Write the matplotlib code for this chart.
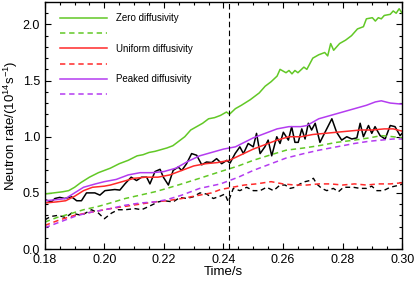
import matplotlib
matplotlib.use('Agg')
import matplotlib.pyplot as plt
from matplotlib.ticker import MultipleLocator

plt.rcParams['font.family'] = ['Liberation Sans', 'DejaVu Sans']
plt.rcParams['mathtext.fontset'] = 'custom'
plt.rcParams['mathtext.rm'] = 'Liberation Sans'
plt.rcParams['mathtext.it'] = 'Liberation Sans:italic'

# Zero diffusivity, solid
t_zero = [0.180, 0.183, 0.186, 0.188, 0.190, 0.192, 0.195, 0.198, 0.200, 0.202, 0.205, 0.208,
          0.211, 0.213, 0.215, 0.217, 0.219, 0.221, 0.223, 0.225, 0.227, 0.229, 0.231, 0.233,
          0.235, 0.237, 0.239, 0.241, 0.242, 0.244, 0.246, 0.249, 0.252, 0.254, 0.256, 0.258,
          0.259, 0.261, 0.262, 0.263, 0.264, 0.265, 0.267, 0.268, 0.270, 0.272, 0.274, 0.275,
          0.276, 0.277, 0.279, 0.281, 0.283, 0.285, 0.287, 0.288, 0.290, 0.291, 0.292, 0.293,
          0.294, 0.296, 0.297, 0.298, 0.299, 0.300]
v_zero = [0.49, 0.50, 0.51, 0.52, 0.55, 0.59, 0.64, 0.68, 0.70, 0.72, 0.76, 0.79,
          0.83, 0.84, 0.86, 0.87, 0.885, 0.90, 0.92, 0.96, 1.00, 1.06, 1.09, 1.12,
          1.16, 1.17, 1.19, 1.22, 1.20, 1.25, 1.28, 1.33, 1.39, 1.45, 1.49, 1.54,
          1.60, 1.57, 1.59, 1.56, 1.59, 1.57, 1.62, 1.60, 1.70, 1.73, 1.75, 1.72,
          1.83, 1.77, 1.83, 1.86, 1.90, 1.96, 1.98, 2.05, 2.06, 2.03, 2.06, 2.05,
          2.08, 2.09, 2.12, 2.10, 2.14, 2.10]

# Zero diffusivity, dashed
t_zero_d = [0.180, 0.184, 0.188, 0.193, 0.198, 0.202, 0.207, 0.212, 0.217, 0.221, 0.226, 0.232,
            0.239, 0.245, 0.250, 0.256, 0.261, 0.267, 0.272, 0.278, 0.284, 0.289, 0.293, 0.297, 0.300]
v_zero_d = [0.24, 0.28, 0.31, 0.35, 0.38, 0.41, 0.45, 0.48, 0.51, 0.54, 0.58, 0.63,
            0.69, 0.74, 0.79, 0.84, 0.88, 0.90, 0.92, 0.95, 0.97, 0.99, 1.01, 1.00, 0.99]

# Uniform diffusivity
t_uni = [0.180, 0.184, 0.187, 0.190, 0.193, 0.196, 0.200, 0.202, 0.206, 0.210, 0.214, 0.218,
         0.222, 0.226, 0.230, 0.234, 0.238, 0.242, 0.246, 0.250, 0.254, 0.258, 0.262, 0.266,
         0.270, 0.274, 0.278, 0.282, 0.286, 0.290, 0.294, 0.297, 0.300]
v_uni = [0.41, 0.42, 0.43, 0.47, 0.52, 0.55, 0.56, 0.57, 0.60, 0.63, 0.64, 0.64,
         0.66, 0.70, 0.74, 0.76, 0.77, 0.79, 0.84, 0.89, 0.93, 0.97, 1.00, 1.00,
         1.02, 1.03, 1.04, 1.05, 1.06, 1.06, 1.07, 1.07, 1.05]

t_uni_d = [0.180, 0.185, 0.190, 0.194, 0.198, 0.202, 0.207, 0.212, 0.217, 0.221, 0.226, 0.232,
           0.236, 0.239, 0.243, 0.247, 0.251, 0.256, 0.260, 0.264, 0.268, 0.272, 0.276, 0.280,
           0.284, 0.288, 0.292, 0.296, 0.300]
v_uni_d = [0.21, 0.26, 0.30, 0.32, 0.34, 0.36, 0.38, 0.40, 0.42, 0.43, 0.45, 0.48,
           0.50, 0.53, 0.55, 0.57, 0.58, 0.60, 0.58, 0.57, 0.57, 0.58, 0.58, 0.57,
           0.58, 0.57, 0.58, 0.58, 0.59]

# Peaked diffusivity
t_peak = [0.180, 0.184, 0.187, 0.190, 0.193, 0.197, 0.200, 0.204, 0.208, 0.212, 0.216, 0.220,
          0.224, 0.228, 0.232, 0.236, 0.240, 0.244, 0.247, 0.250, 0.254, 0.258, 0.262, 0.266,
          0.268, 0.272, 0.276, 0.280, 0.284, 0.288, 0.291, 0.293, 0.296, 0.300]
v_peak = [0.43, 0.44, 0.45, 0.50, 0.55, 0.58, 0.60, 0.62, 0.66, 0.68, 0.68, 0.69,
          0.72, 0.78, 0.83, 0.86, 0.89, 0.91, 0.95, 0.99, 1.03, 1.07, 1.09, 1.09,
          1.10, 1.16, 1.19, 1.22, 1.25, 1.28, 1.31, 1.32, 1.30, 1.29]

t_peak_d = [0.180, 0.185, 0.190, 0.194, 0.198, 0.202, 0.207, 0.212, 0.217, 0.221, 0.226, 0.232,
            0.239, 0.245, 0.250, 0.256, 0.261, 0.267, 0.272, 0.278, 0.284, 0.289, 0.293, 0.297, 0.300]
v_peak_d = [0.19, 0.24, 0.29, 0.32, 0.34, 0.36, 0.39, 0.41, 0.42, 0.44, 0.48, 0.54,
            0.58, 0.64, 0.70, 0.76, 0.81, 0.85, 0.88, 0.91, 0.94, 0.96, 0.97, 0.98, 0.98]

# Measured (black)
t_meas = [0.1800, 0.1822, 0.1834, 0.1850, 0.1867, 0.1890, 0.1907, 0.1923, 0.1940, 0.1968,
          0.1985, 0.2002, 0.2035, 0.2052, 0.2069, 0.2090, 0.2108, 0.2125, 0.2142, 0.2153,
          0.2170, 0.2187, 0.2198, 0.2215, 0.2231, 0.2248, 0.2260, 0.2276, 0.2293, 0.2310,
          0.2327, 0.2343, 0.2360, 0.2377, 0.2394, 0.2411, 0.2422, 0.2439, 0.2455, 0.2467,
          0.2483, 0.2500, 0.2511, 0.2523, 0.2539, 0.2550, 0.2562, 0.2579, 0.2590, 0.2601,
          0.2618, 0.2629, 0.2640, 0.2651, 0.2663, 0.2674, 0.2685, 0.2696, 0.2708, 0.2724,
          0.2741, 0.2764, 0.2780, 0.2797, 0.2814, 0.2831, 0.2848, 0.2859, 0.2870, 0.2887,
          0.2898, 0.2909, 0.2926, 0.2943, 0.2960, 0.2976, 0.2993, 0.3000]
v_meas = [0.44, 0.42, 0.45, 0.46, 0.45, 0.465, 0.43, 0.43, 0.50, 0.50,
          0.48, 0.52, 0.53, 0.525, 0.58, 0.64, 0.61, 0.64, 0.64, 0.58,
          0.69, 0.71, 0.64, 0.57, 0.70, 0.73, 0.70, 0.76, 0.85, 0.835,
          0.75, 0.775, 0.77, 0.805, 0.76, 0.79, 0.765, 0.85, 0.91, 0.85,
          0.94, 0.91, 1.03, 0.85, 0.91, 0.97, 0.83, 1.00, 0.94, 1.04,
          0.97, 1.09, 0.95, 0.95, 1.07, 0.98, 1.12, 1.06, 1.12, 0.95,
          1.04, 1.16, 1.04, 0.97, 1.00, 0.98, 0.99, 1.12, 1.00, 1.10,
          1.03, 1.09, 1.01, 0.98, 1.10, 1.09, 1.01, 1.03]

t_meas_d = [0.1800, 0.1820, 0.1845, 0.1870, 0.1890, 0.1923, 0.1957, 0.1980, 0.2000, 0.2024,
            0.2046, 0.2070, 0.2103, 0.2125, 0.2150, 0.2181, 0.2200, 0.2231, 0.2254, 0.2276,
            0.2298, 0.2321, 0.2343, 0.2366, 0.2388, 0.2405, 0.2416, 0.2433, 0.2455, 0.2478,
            0.2500, 0.2523, 0.2545, 0.2568, 0.2590, 0.2607, 0.2624, 0.2640, 0.2657, 0.2674,
            0.2690, 0.2702, 0.2713, 0.2730, 0.2747, 0.2769, 0.2786, 0.2803, 0.2820, 0.2836,
            0.2859, 0.2881, 0.2898, 0.2915, 0.2937, 0.2960, 0.2976, 0.2993, 0.3000]
v_meas_d = [0.26, 0.29, 0.30, 0.28, 0.32, 0.30, 0.35, 0.32, 0.27, 0.32,
            0.35, 0.35, 0.36, 0.35, 0.38, 0.42, 0.43, 0.42, 0.46, 0.45,
            0.465, 0.50, 0.49, 0.45, 0.47, 0.49, 0.42, 0.54, 0.52, 0.55,
            0.52, 0.52, 0.55, 0.52, 0.57, 0.57, 0.54, 0.55, 0.58, 0.60,
            0.61, 0.63, 0.58, 0.54, 0.52, 0.54, 0.51, 0.55, 0.55, 0.55,
            0.54, 0.54, 0.56, 0.52, 0.52, 0.55, 0.56, 0.57, 0.58]

t_mark = 0.242

green = '#62c826'
red = '#ff2a2a'
purple = '#b43cf0'
dash = (3.5, 2.5)

fig = plt.figure(figsize=(4.15, 2.83), dpi=100)
ax = fig.add_axes([0.108, 0.12, 0.861, 0.873])

ax.plot(t_meas_d, v_meas_d, color='black', lw=1.0, dashes=dash)
ax.plot(t_meas, v_meas, color='black', lw=1.1)
l1, = ax.plot(t_zero, v_zero, color=green, lw=1.1)
l2, = ax.plot(t_zero_d, v_zero_d, color=green, lw=1.1, dashes=dash)
l3, = ax.plot(t_uni, v_uni, color=red, lw=1.1)
l4, = ax.plot(t_uni_d, v_uni_d, color=red, lw=1.1, dashes=dash)
l5, = ax.plot(t_peak, v_peak, color=purple, lw=1.1)
l6, = ax.plot(t_peak_d, v_peak_d, color=purple, lw=1.1, dashes=dash)
ax.axvline(t_mark, color='black', lw=0.8, dashes=(5, 3))

ax.legend([l1, l2, l3, l4, l5, l6],
          ['Zero diffusivity', '', 'Uniform diffusivity', '', 'Peaked diffusivity', ''],
          loc='upper left', bbox_to_anchor=(0.042, 0.955), frameon=False,
          fontsize=7, handlelength=4.9, handletextpad=0.9, labelspacing=0.55,
          borderaxespad=0, borderpad=0)

ax.set_xlim(0.18, 0.30)
ax.set_ylim(0.0, 2.2)
ax.xaxis.set_major_locator(MultipleLocator(0.02))
ax.xaxis.set_minor_locator(MultipleLocator(0.005))
ax.yaxis.set_major_locator(MultipleLocator(0.5))
ax.yaxis.set_minor_locator(MultipleLocator(0.1))
ax.set_xticks([0.18, 0.20, 0.22, 0.24, 0.26, 0.28, 0.30])
ax.set_xticklabels(['0.18', '0.20', '0.22', '0.24', '0.26', '0.28', '0.30'])
ax.tick_params(which='both', direction='in', top=True, right=True, labelsize=9, width=0.8)
ax.tick_params(which='major', length=4)
ax.tick_params(which='minor', length=2)
for s in ax.spines.values():
    s.set_linewidth(1.0)

ax.set_xlabel('Time/s', fontsize=9.5, labelpad=0)
ax.set_ylabel('Neutron rate/(10$^{14}$s$^{-1}$)', fontsize=9.5, labelpad=2)

fig.savefig('out.png', dpi=100)
